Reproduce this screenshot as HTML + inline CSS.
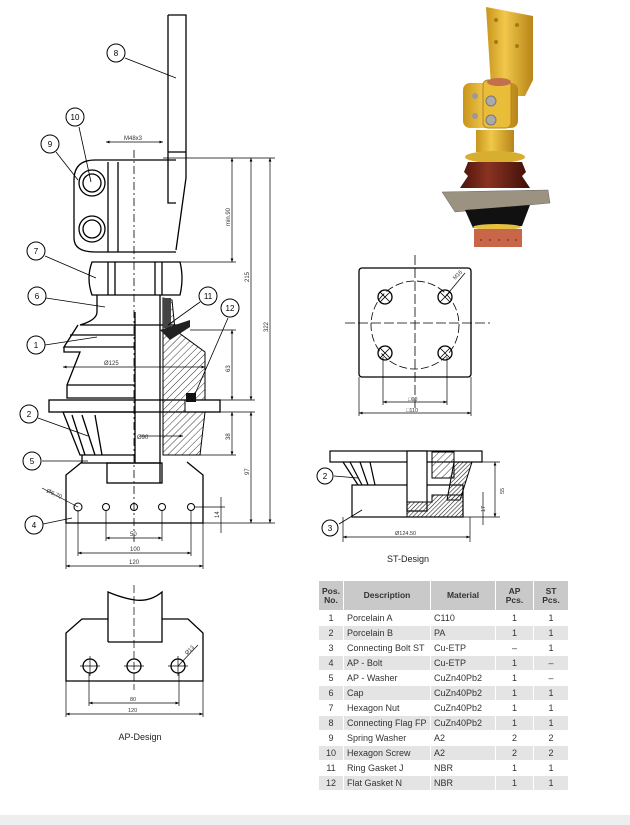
<!DOCTYPE html>
<html><head><meta charset="utf-8"><style>
body{margin:0;background:#fff;width:630px;height:825px;overflow:hidden;font-family:"Liberation Sans",sans-serif}
svg{position:absolute;left:0;top:0}
table{position:absolute;left:318px;top:580px;border-collapse:separate;border-spacing:1px;font-size:9px;color:#333}
td,th{padding:0 3px;height:14px;}
th{background:#c9c9c9;height:29px;font-size:8.5px;line-height:9px}
tr:nth-child(odd) td{background:#e4e4e4}
tr:nth-child(even) td{background:#fff}
td.c{text-align:center}
</style></head><body>
<svg width="630" height="825" viewBox="0 0 630 825" font-family="Liberation Sans, sans-serif">
<defs>
<pattern id="h" width="5" height="5" patternUnits="userSpaceOnUse" patternTransform="rotate(45)"><line x1="0" y1="0" x2="0" y2="5" stroke="#333" stroke-width="1"/></pattern>
<pattern id="hd" width="3" height="3" patternUnits="userSpaceOnUse" patternTransform="rotate(45)"><line x1="0" y1="0" x2="0" y2="3" stroke="#222" stroke-width="1.2"/></pattern>
<marker id="a" markerWidth="6" markerHeight="6" refX="5" refY="3" orient="auto-start-reverse"><path d="M0,1 L5,3 L0,5z" fill="#000"/></marker>
<linearGradient id="gold" x1="0" x2="1"><stop offset="0" stop-color="#c8951c"/><stop offset="0.4" stop-color="#f0c84a"/><stop offset="1" stop-color="#b88418"/></linearGradient>
<linearGradient id="brown" x1="0" x2="1"><stop offset="0" stop-color="#4a120a"/><stop offset="0.4" stop-color="#8a3322"/><stop offset="1" stop-color="#3e0e08"/></linearGradient>
</defs>
<rect x="0" y="815" width="630" height="10" fill="#eee"/>
<g stroke="#000" fill="none" stroke-width="1.3">
<path d="M168,15 H186 V178 L176,250 M168,15 V203 H176 M168,152 H186"/>
<path d="M176,160 H95 Q74,160 74,180 V238 Q74,252 95,252 H176"/>
<line x1="108" y1="162" x2="108" y2="252"/><line x1="118" y1="162" x2="118" y2="252"/>
<circle cx="92" cy="183" r="13"/><circle cx="92" cy="183" r="9"/>
<circle cx="92" cy="229" r="13"/><circle cx="92" cy="229" r="9"/>
<path d="M92,262 H180 Q184,278 180,295 H92 Q86,278 92,262z"/>
<line x1="108" y1="262" x2="108" y2="295"/><line x1="115" y1="262" x2="115" y2="295"/><line x1="155" y1="262" x2="155" y2="295"/><line x1="162" y1="262" x2="162" y2="295"/>
<path d="M97,295 V312 Q97,320 80,325 H190 M160,295 V312"/>
<path d="M78,325 L64,347 H135 M70,335 H135"/>
<path d="M64,347 V352 H80 L67,385 V398 H135 M67,385 H135"/>
<rect x="49" y="400" width="171" height="12"/>
<path d="M63,412 L80,455 H135 M63,412 H135 M72,415 L85,455 M82,415 L95,455 M95,415 L102,455"/>
<path d="M82,455 V463 H160"/>
<rect x="107" y="463" width="55" height="20"/>
<path d="M82,462 L66,475 V523 H203 V475 L187,462"/>
<path d="M135,312 V463 M160,312 V483"/>
</g>
<path d="M163,298 L172,300 L175,330 L205,352 L205,400 L185,400 L185,412 L205,412 L200,455 L163,455z" fill="url(#h)" stroke="#000"/>
<rect x="163" y="298" width="8" height="30" fill="#444"/>
<path d="M160,330 L190,320 L190,327 L170,340z" fill="#222"/>
<rect x="186" y="393" width="10" height="9" fill="#111"/>
<g fill="#fff" stroke="#000"><circle cx="78" cy="507" r="4"/><circle cx="106" cy="507" r="3.5"/><circle cx="134" cy="507" r="3.5"/><circle cx="162" cy="507" r="3.5"/><circle cx="191" cy="507" r="3.5"/></g>
<line x1="134" y1="150" x2="134" y2="545" stroke="#000" stroke-dasharray="8,3,2,3" stroke-width="0.8"/>
<g stroke="#000" stroke-width="0.7" fill="none">
<line x1="106" y1="142" x2="163" y2="142" marker-start="url(#a)" marker-end="url(#a)"/>
<line x1="163" y1="158" x2="275" y2="158"/>
<line x1="180" y1="262" x2="236" y2="262"/>
<line x1="232" y1="158" x2="232" y2="262" marker-start="url(#a)" marker-end="url(#a)"/>
<line x1="251" y1="158" x2="251" y2="400" marker-start="url(#a)" marker-end="url(#a)"/>
<line x1="270" y1="158" x2="270" y2="523" marker-start="url(#a)" marker-end="url(#a)"/>
<line x1="190" y1="330" x2="236" y2="330"/><line x1="220" y1="400" x2="255" y2="400"/><line x1="220" y1="412" x2="255" y2="412"/><line x1="190" y1="455" x2="236" y2="455"/>
<line x1="232" y1="330" x2="232" y2="400" marker-start="url(#a)" marker-end="url(#a)"/>
<line x1="232" y1="412" x2="232" y2="455" marker-start="url(#a)" marker-end="url(#a)"/>
<line x1="251" y1="412" x2="251" y2="523" marker-start="url(#a)" marker-end="url(#a)"/>
<line x1="203" y1="523" x2="275" y2="523"/><line x1="195" y1="507" x2="225" y2="507"/>
<line x1="221" y1="497" x2="221" y2="533"/>
<line x1="63" y1="367" x2="205" y2="367" marker-start="url(#a)" marker-end="url(#a)"/>
<line x1="140" y1="436" x2="183" y2="436" marker-end="url(#a)"/>
<line x1="106" y1="510" x2="106" y2="541"/><line x1="162" y1="510" x2="162" y2="541"/><line x1="78" y1="510" x2="78" y2="556"/><line x1="191" y1="510" x2="191" y2="556"/><line x1="66" y1="523" x2="66" y2="569"/><line x1="203" y1="523" x2="203" y2="569"/>
<line x1="106" y1="538" x2="162" y2="538" marker-start="url(#a)" marker-end="url(#a)"/>
<line x1="78" y1="553" x2="191" y2="553" marker-start="url(#a)" marker-end="url(#a)"/>
<line x1="66" y1="566" x2="203" y2="566" marker-start="url(#a)" marker-end="url(#a)"/>
<line x1="42" y1="488" x2="78" y2="507"/>
</g>
<g font-size="6" fill="#333">
<text x="124" y="140">M48x3</text>
<text x="230" y="226" transform="rotate(-90 230 226)">min.90</text>
<text x="249" y="282" transform="rotate(-90 249 282)">215</text>
<text x="268" y="332" transform="rotate(-90 268 332)">322</text>
<text x="230" y="372" transform="rotate(-90 230 372)">63</text>
<text x="230" y="440" transform="rotate(-90 230 440)">38</text>
<text x="249" y="475" transform="rotate(-90 249 475)">97</text>
<text x="219" y="518" transform="rotate(-90 219 518)">14</text>
<text x="104" y="365">Ø125</text><text x="137" y="439">Ø90</text>
<text x="46" y="492" transform="rotate(25 46 492)">Ø6,70</text>
<text x="130" y="536">50</text><text x="130" y="551">100</text><text x="129" y="564">120</text>
</g>
<g stroke="#000" stroke-width="0.8"><line x1="125" y1="58" x2="176" y2="78"/><line x1="79" y1="127" x2="91" y2="182"/><line x1="56" y1="152" x2="78" y2="180"/><line x1="45" y1="256" x2="96" y2="278"/><line x1="46" y1="298" x2="105" y2="307"/><line x1="200" y1="302" x2="168" y2="325"/><line x1="228" y1="318" x2="195" y2="394"/><line x1="45" y1="345" x2="97" y2="337"/><line x1="38" y1="418" x2="88" y2="436"/><line x1="42" y1="461" x2="88" y2="461"/><line x1="43" y1="524" x2="72" y2="518"/><line x1="339" y1="524" x2="362" y2="510"/><line x1="334" y1="476" x2="358" y2="478"/></g>
<g stroke="#000" fill="#fff" stroke-width="1"><circle cx="116" cy="53" r="9"/><circle cx="75" cy="117" r="9"/><circle cx="50" cy="144" r="9"/><circle cx="36" cy="251" r="9"/><circle cx="37" cy="296" r="9"/><circle cx="208" cy="296" r="9"/><circle cx="230" cy="308" r="9"/><circle cx="36" cy="345" r="9"/><circle cx="29" cy="414" r="9"/><circle cx="32" cy="461" r="9"/><circle cx="34" cy="525" r="9"/><circle cx="330" cy="528" r="8"/><circle cx="325" cy="476" r="8"/></g>
<g font-size="8" text-anchor="middle" fill="#000"><text x="116" y="56">8</text><text x="75" y="120">10</text><text x="50" y="147">9</text><text x="36" y="254">7</text><text x="37" y="299">6</text><text x="208" y="299">11</text><text x="230" y="311">12</text><text x="36" y="348">1</text><text x="29" y="417">2</text><text x="32" y="464">5</text><text x="34" y="528">4</text><text x="330" y="531">3</text><text x="325" y="479">2</text></g>
<rect x="359" y="268" width="112" height="109" rx="3" fill="none" stroke="#000" stroke-width="1.3"/>
<circle cx="415" cy="325" r="44" fill="none" stroke="#000" stroke-dasharray="8,3" stroke-width="0.8"/>
<line x1="415" y1="255" x2="415" y2="410" stroke="#000" stroke-dasharray="10,3" stroke-width="0.8"/>
<line x1="345" y1="323" x2="490" y2="323" stroke="#000" stroke-dasharray="10,3" stroke-width="0.8"/>
<g stroke="#000" fill="none" stroke-width="1.3"><circle cx="385" cy="297" r="7"/><circle cx="445" cy="297" r="7"/><circle cx="385" cy="353" r="7"/><circle cx="445" cy="353" r="7"/>
<path d="M380,292l10,10m0-10l-10,10M440,292l10,10m0-10l-10,10M380,348l10,10m0-10l-10,10M440,348l10,10m0-10l-10,10" stroke-width="0.8"/></g>
<g stroke="#000" stroke-width="0.7"><line x1="445" y1="297" x2="465" y2="273"/><line x1="383" y1="357" x2="383" y2="405"/><line x1="447" y1="357" x2="447" y2="405"/><line x1="383" y1="402" x2="447" y2="402" marker-start="url(#a)" marker-end="url(#a)"/><line x1="359" y1="377" x2="359" y2="416"/><line x1="471" y1="377" x2="471" y2="416"/><line x1="359" y1="413" x2="471" y2="413" marker-start="url(#a)" marker-end="url(#a)"/></g>
<g font-size="5.5" fill="#333"><text x="408" y="401">□60</text><text x="406" y="412">□110</text><text x="455" y="280" transform="rotate(-45 455 280)">M16</text></g>
<g stroke="#000" fill="none" stroke-width="1.2">
<rect x="330" y="451" width="152" height="11"/>
<rect x="352" y="485" width="111" height="32"/>
<path d="M343,462 L358,485 M350,462 L362,485 M360,462 L368,485 M370,462 L375,485"/>
<rect x="407" y="451" width="20" height="60" fill="#fff"/>
</g>
<rect x="432" y="452" width="22" height="26" fill="url(#h)" stroke="#000"/>
<path d="M454,462 L472,462 L460,500 L447,500z" fill="url(#hd)" stroke="#000"/>
<path d="M407,502 L432,502 L432,495 L463,495 L463,517 L407,517z" fill="url(#hd)" stroke="#000"/>
<g stroke="#000" stroke-width="0.7"><line x1="343" y1="517" x2="343" y2="542"/><line x1="470" y1="517" x2="470" y2="542"/><line x1="343" y1="537" x2="470" y2="537" marker-start="url(#a)" marker-end="url(#a)"/>
<line x1="482" y1="462" x2="500" y2="462"/><line x1="463" y1="517" x2="500" y2="517"/><line x1="495" y1="462" x2="495" y2="517" marker-start="url(#a)" marker-end="url(#a)"/><line x1="483" y1="492" x2="483" y2="525"/></g>
<g font-size="5.5" fill="#333"><text x="395" y="535">Ø124.50</text><text x="504" y="494" transform="rotate(-90 504 494)">55</text><text x="485" y="512" transform="rotate(-90 485 512)">17</text></g>
<text x="408" y="562" font-size="9" text-anchor="middle" fill="#222">ST-Design</text>
<g stroke="#000" fill="none" stroke-width="1.3">
<path d="M108,642 V592 Q122,598 135,600 Q150,602 162,592 V642 H108"/>
<path d="M108,619 H82 L66,633 V681 H203 V633 L188,619 H162"/>
<circle cx="90" cy="666" r="7"/><circle cx="134" cy="666" r="7"/><circle cx="178" cy="666" r="7"/>
</g>
<g stroke="#000" stroke-width="0.7"><line x1="134" y1="585" x2="134" y2="690" stroke-dasharray="8,3"/><path d="M80,666h20M90,656v20M124,666h20M168,666h20M178,656v20"/><line x1="178" y1="666" x2="198" y2="645"/>
<line x1="89" y1="673" x2="89" y2="706"/><line x1="179" y1="673" x2="179" y2="706"/><line x1="89" y1="703" x2="179" y2="703" marker-start="url(#a)" marker-end="url(#a)"/>
<line x1="66" y1="681" x2="66" y2="717"/><line x1="203" y1="681" x2="203" y2="717"/><line x1="66" y1="714" x2="203" y2="714" marker-start="url(#a)" marker-end="url(#a)"/></g>
<g font-size="5.5" fill="#333"><text x="130" y="701">80</text><text x="128" y="712">120</text><text x="187" y="655" transform="rotate(-45 187 655)">Ø13</text></g>
<text x="140" y="740" font-size="9" text-anchor="middle" fill="#222">AP-Design</text>
<!-- 3D render -->
<path d="M486,7 L533,16 V80 L525,96 L511,96 L511,86 L491,86 Z" fill="url(#gold)"/>
<g fill="#a87818"><circle cx="496" cy="20" r="2"/><circle cx="517" cy="25" r="2"/><circle cx="496" cy="42" r="2"/><circle cx="517" cy="46" r="2"/></g>
<rect x="463" y="83" width="55" height="45" rx="7" fill="url(#gold)"/>
<rect x="483" y="80" width="28" height="48" rx="5" fill="#e9bd38" stroke="#b58520"/>
<ellipse cx="499" cy="82" rx="12" ry="4" fill="#c2704c"/>
<circle cx="491" cy="101" r="5" fill="#aaa" stroke="#777"/><circle cx="491" cy="120" r="5" fill="#aaa" stroke="#777"/>
<circle cx="475" cy="96" r="3" fill="#999"/><circle cx="475" cy="116" r="3" fill="#999"/>
<rect x="476" y="130" width="38" height="22" fill="url(#gold)"/>
<ellipse cx="495" cy="157" rx="30" ry="6" fill="#d8ae30"/>
<path d="M468,162 L522,162 L526,172 L522,176 L530,188 L460,188 L468,176 L464,172 Z" fill="url(#brown)"/>
<path d="M442,192 L548,190 L550,203 L455,212 Z" fill="#9b9282" stroke="#666" stroke-width="0.5"/>
<path d="M465,210 L530,205 L522,226 L473,228 Z" fill="#111"/>
<ellipse cx="497" cy="227" rx="24" ry="3" fill="#e8c040"/>
<rect x="474" y="229" width="48" height="18" fill="#c8664a"/>
<g fill="#8a3a28"><circle cx="481" cy="240" r="1"/><circle cx="490" cy="240" r="1"/><circle cx="499" cy="240" r="1"/><circle cx="508" cy="240" r="1"/><circle cx="516" cy="240" r="1"/></g>
</svg>
<table>
<tr><th style="width:18px">Pos.<br>No.</th><th style="width:80px">Description</th><th style="width:58px">Material</th><th style="width:31px">AP<br>Pcs.</th><th style="width:28px">ST<br>Pcs.</th></tr>
<tr><td class="c">1</td><td>Porcelain A</td><td>C110</td><td class="c">1</td><td class="c">1</td></tr>
<tr><td class="c">2</td><td>Porcelain B</td><td>PA</td><td class="c">1</td><td class="c">1</td></tr>
<tr><td class="c">3</td><td>Connecting Bolt ST</td><td>Cu-ETP</td><td class="c">–</td><td class="c">1</td></tr>
<tr><td class="c">4</td><td>AP - Bolt</td><td>Cu-ETP</td><td class="c">1</td><td class="c">–</td></tr>
<tr><td class="c">5</td><td>AP - Washer</td><td>CuZn40Pb2</td><td class="c">1</td><td class="c">–</td></tr>
<tr><td class="c">6</td><td>Cap</td><td>CuZn40Pb2</td><td class="c">1</td><td class="c">1</td></tr>
<tr><td class="c">7</td><td>Hexagon Nut</td><td>CuZn40Pb2</td><td class="c">1</td><td class="c">1</td></tr>
<tr><td class="c">8</td><td>Connecting Flag FP</td><td>CuZn40Pb2</td><td class="c">1</td><td class="c">1</td></tr>
<tr><td class="c">9</td><td>Spring Washer</td><td>A2</td><td class="c">2</td><td class="c">2</td></tr>
<tr><td class="c">10</td><td>Hexagon Screw</td><td>A2</td><td class="c">2</td><td class="c">2</td></tr>
<tr><td class="c">11</td><td>Ring Gasket J</td><td>NBR</td><td class="c">1</td><td class="c">1</td></tr>
<tr><td class="c">12</td><td>Flat Gasket N</td><td>NBR</td><td class="c">1</td><td class="c">1</td></tr>
</table>
</body></html>
